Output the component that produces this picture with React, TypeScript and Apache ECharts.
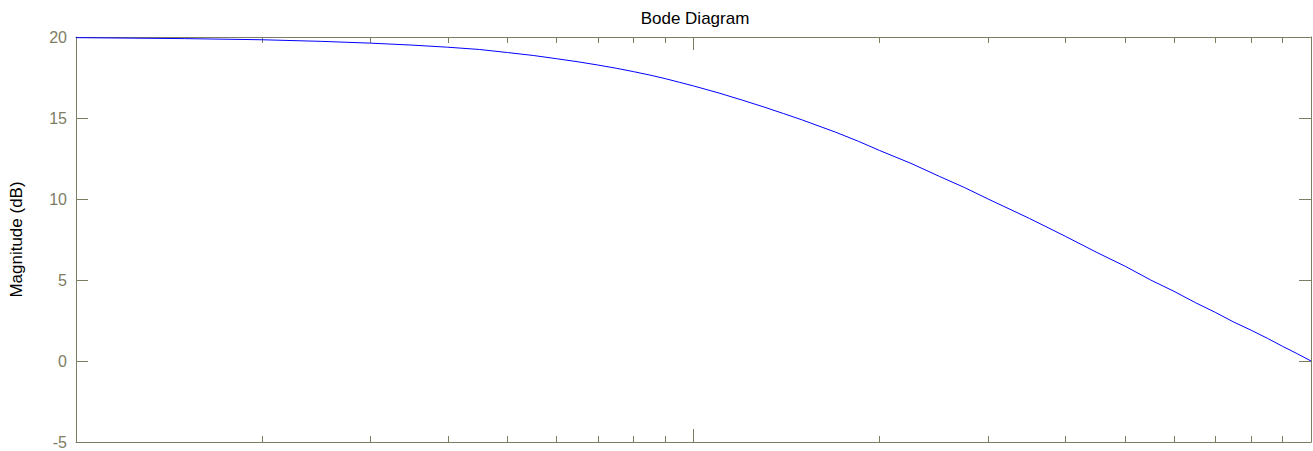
import React, { useEffect, useRef } from "react";
import * as echarts from "echarts";

// Frequencies (rad/s) and magnitudes (dB)
const frequencies = [
  0.1, 0.15, 0.2, 0.25, 0.3, 0.35, 0.4, 0.45, 0.5, 0.55, 0.6, 0.65, 0.7, 0.75, 0.8, 0.85, 0.9, 0.95,
  1, 1.1, 1.2, 1.3, 1.4, 1.5, 1.7, 1.85, 2, 2.25, 2.5, 2.75, 3, 3.5, 4, 4.5, 5, 5.5, 6, 6.5, 7, 7.5, 8, 8.5, 9, 9.5, 10,
];
const magnitudes = [
  19.96, 19.9, 19.83, 19.73, 19.62, 19.5, 19.37, 19.23, 19.04, 18.86, 18.66, 18.47, 18.27, 18.07, 17.86, 17.65, 17.43, 17.2,
  16.98, 16.54, 16.1, 15.68, 15.27, 14.88, 14.12, 13.56, 13.0, 12.2, 11.4, 10.7, 10.0, 8.8, 7.7, 6.7, 5.85, 5.0, 4.3, 3.6, 3.0, 2.4, 1.9, 1.4, 0.9, 0.45, 0.0,
];

const yTickValues = [-5, 0, 5, 10, 15, 20];
const minorFreqTicks = [0.2, 0.3, 0.4, 0.5, 0.6, 0.7, 0.8, 0.9, 2, 3, 4, 5, 6, 7, 8, 9];
const majorFreqTicks = [1];

const titleText = "Bode Diagram";
const yName = "Magnitude (dB)";

const AXIS = "#7d7d64";
const FONT = "Liberation Sans, Arial, Helvetica, sans-serif";

export default function App() {
  const ref = useRef<HTMLDivElement>(null);

  useEffect(() => {
    if (!ref.current) return;
    const chart = echarts.init(ref.current, null, { renderer: "svg" });
    const box = { left: 75, top: 37, right: 2, bottom: 9 };

    const xAxisDef = (gridIndex: number, position: string, ticks: number[], length: number, lineShow: boolean) => ({
      type: "log",
      logBase: 10,
      min: 0.1,
      max: 10,
      gridIndex,
      position,
      axisLine: { show: lineShow, onZero: false, lineStyle: { color: AXIS, width: 1 } },
      axisTick: { show: true, inside: true, length, customValues: ticks, lineStyle: { color: AXIS, width: 1 } },
      axisLabel: { show: false },
      splitLine: { show: false },
      minorTick: { show: false },
      minorSplitLine: { show: false },
    });

    const yMin = yTickValues[0];
    const yMax = yTickValues[yTickValues.length - 1];

    chart.setOption({
      animation: false,
      backgroundColor: "#ffffff",
      title: {
        text: titleText,
        left: 690,
        textAlign: "center",
        top: 5,
        textStyle: { color: "#000", fontSize: 17, fontWeight: "normal", fontFamily: FONT },
      },
      grid: [
        { ...box, containLabel: false },
        { ...box, containLabel: false },
      ],
      xAxis: [
        xAxisDef(0, "bottom", minorFreqTicks, 6, true),
        xAxisDef(0, "top", minorFreqTicks, 6, true),
        xAxisDef(1, "bottom", majorFreqTicks, 13, false),
        xAxisDef(1, "top", majorFreqTicks, 13, false),
      ],
      yAxis: [
        {
          type: "value",
          gridIndex: 0,
          position: "left",
          min: yMin,
          max: yMax,
          interval: 5,
          name: yName,
          nameLocation: "middle",
          nameGap: 51,
          nameTextStyle: { color: "#000", fontSize: 17, fontFamily: FONT },
          axisLine: { show: true, onZero: false, lineStyle: { color: AXIS, width: 1 } },
          axisTick: { show: true, inside: true, length: 12, lineStyle: { color: AXIS, width: 1 } },
          axisLabel: { show: true, color: AXIS, fontSize: 16, fontFamily: FONT, margin: 9 },
          splitLine: { show: false },
        },
        {
          type: "value",
          gridIndex: 0,
          position: "right",
          min: yMin,
          max: yMax,
          interval: 5,
          axisLine: { show: true, onZero: false, lineStyle: { color: AXIS, width: 1 } },
          axisTick: { show: true, inside: true, length: 12, lineStyle: { color: AXIS, width: 1 } },
          axisLabel: { show: false },
          splitLine: { show: false },
        },
        {
          type: "value",
          gridIndex: 1,
          min: yMin,
          max: yMax,
          interval: 5,
          show: false,
        },
      ],
      series: [
        {
          type: "line",
          xAxisIndex: 0,
          yAxisIndex: 0,
          data: frequencies.map((f, i) => [f, magnitudes[i]]),
          showSymbol: false,
          smooth: false,
          clip: true,
          lineStyle: { color: "#0000ff", width: 1 },
        },
      ],
    });

    return () => chart.dispose();
  }, []);

  return (
    <div
      ref={ref}
      style={{ position: "absolute", left: 0, top: 0, width: 1313, height: 451, background: "#fff" }}
    />
  );
}
